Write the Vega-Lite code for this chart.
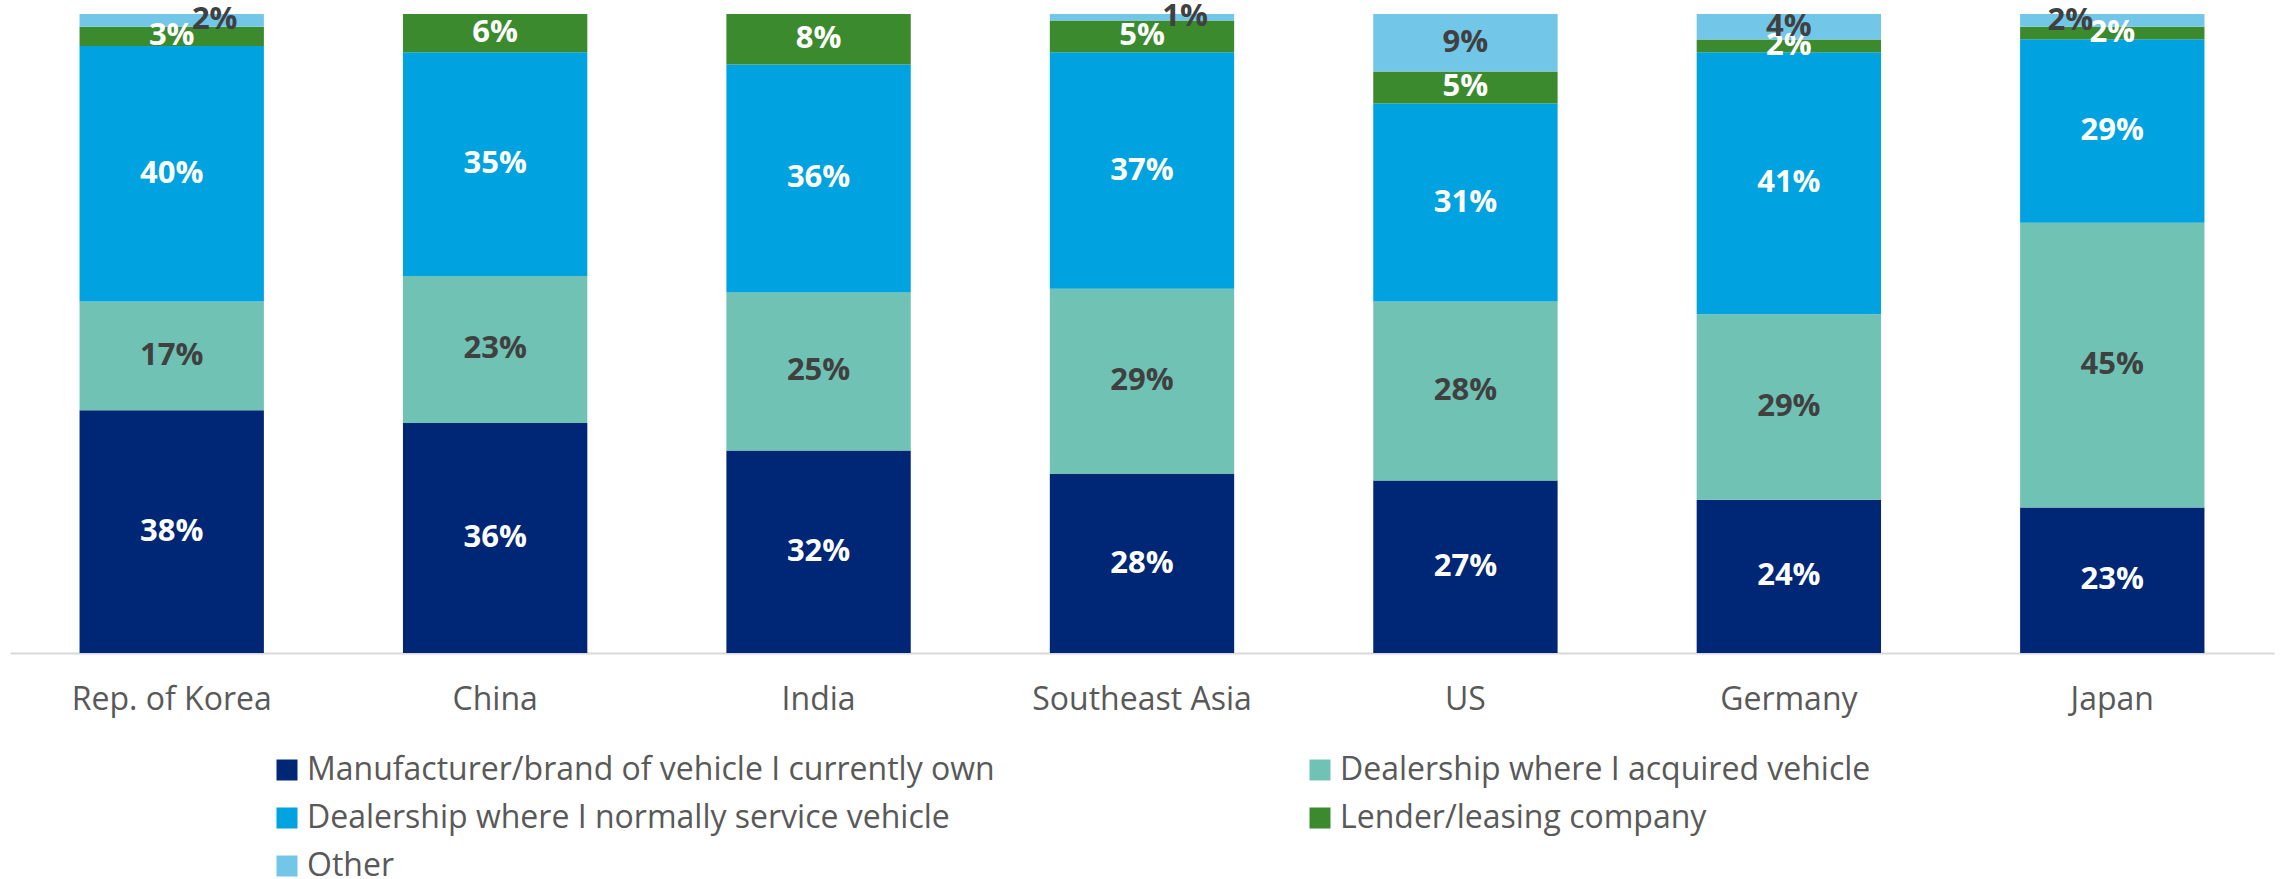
{
  "$schema": "https://vega.github.io/schema/vega-lite/v6.json",
  "width": 2264,
  "height": 639,
  "autosize": {"type": "none"},
  "padding": {"left": 10, "top": 14, "right": 6, "bottom": 226},
  "background": "white",
  "config": {"view": {"stroke": null}, "font": "Open Sans"},
  "data": {"values": [
    {"c": "Rep. of Korea", "s": "Manufacturer/brand of vehicle I currently own", "k": 1, "v": 0.38},
    {"c": "Rep. of Korea", "s": "Dealership where I acquired vehicle", "k": 2, "v": 0.17},
    {"c": "Rep. of Korea", "s": "Dealership where I normally service vehicle", "k": 3, "v": 0.40},
    {"c": "Rep. of Korea", "s": "Lender/leasing company", "k": 4, "v": 0.03},
    {"c": "Rep. of Korea", "s": "Other", "k": 5, "v": 0.02},
    {"c": "China", "s": "Manufacturer/brand of vehicle I currently own", "k": 1, "v": 0.36},
    {"c": "China", "s": "Dealership where I acquired vehicle", "k": 2, "v": 0.23},
    {"c": "China", "s": "Dealership where I normally service vehicle", "k": 3, "v": 0.35},
    {"c": "China", "s": "Lender/leasing company", "k": 4, "v": 0.06},
    {"c": "India", "s": "Manufacturer/brand of vehicle I currently own", "k": 1, "v": 0.32},
    {"c": "India", "s": "Dealership where I acquired vehicle", "k": 2, "v": 0.25},
    {"c": "India", "s": "Dealership where I normally service vehicle", "k": 3, "v": 0.36},
    {"c": "India", "s": "Lender/leasing company", "k": 4, "v": 0.08},
    {"c": "Southeast Asia", "s": "Manufacturer/brand of vehicle I currently own", "k": 1, "v": 0.28},
    {"c": "Southeast Asia", "s": "Dealership where I acquired vehicle", "k": 2, "v": 0.29},
    {"c": "Southeast Asia", "s": "Dealership where I normally service vehicle", "k": 3, "v": 0.37},
    {"c": "Southeast Asia", "s": "Lender/leasing company", "k": 4, "v": 0.05},
    {"c": "Southeast Asia", "s": "Other", "k": 5, "v": 0.01},
    {"c": "US", "s": "Manufacturer/brand of vehicle I currently own", "k": 1, "v": 0.27},
    {"c": "US", "s": "Dealership where I acquired vehicle", "k": 2, "v": 0.28},
    {"c": "US", "s": "Dealership where I normally service vehicle", "k": 3, "v": 0.31},
    {"c": "US", "s": "Lender/leasing company", "k": 4, "v": 0.05},
    {"c": "US", "s": "Other", "k": 5, "v": 0.09},
    {"c": "Germany", "s": "Manufacturer/brand of vehicle I currently own", "k": 1, "v": 0.24},
    {"c": "Germany", "s": "Dealership where I acquired vehicle", "k": 2, "v": 0.29},
    {"c": "Germany", "s": "Dealership where I normally service vehicle", "k": 3, "v": 0.41},
    {"c": "Germany", "s": "Lender/leasing company", "k": 4, "v": 0.02},
    {"c": "Germany", "s": "Other", "k": 5, "v": 0.04},
    {"c": "Japan", "s": "Manufacturer/brand of vehicle I currently own", "k": 1, "v": 0.23},
    {"c": "Japan", "s": "Dealership where I acquired vehicle", "k": 2, "v": 0.45},
    {"c": "Japan", "s": "Dealership where I normally service vehicle", "k": 3, "v": 0.29},
    {"c": "Japan", "s": "Lender/leasing company", "k": 4, "v": 0.02},
    {"c": "Japan", "s": "Other", "k": 5, "v": 0.02}
  ]},
  "transform": [
    {"stack": "v", "groupby": ["c"], "sort": [{"field": "k", "order": "ascending"}], "offset": "normalize", "as": ["y0", "y1"]},
    {"calculate": "(datum.y0 + datum.y1) / 2", "as": "mid"}
  ],
  "encoding": {
    "x": {
      "field": "c", "type": "nominal", "sort": null, "title": null,
      "scale": {"paddingInner": 0.43, "paddingOuter": 0.215},
      "axis": {"labelAngle": 0, "ticks": false, "domainColor": "#D9D9D9", "domainWidth": 2, "labelFont": "Open Sans", "labelFontSize": 32, "labelColor": "#595959", "labelPadding": 31, "labelLimit": 500}
    },
    "y": {"field": "mid", "type": "quantitative", "scale": {"domain": [0, 1], "nice": false}, "axis": null},
    "text": {"field": "v", "type": "quantitative", "format": ".0%"}
  },
  "layer": [
    {
      "mark": {"type": "bar"},
      "encoding": {
        "y": {"field": "y0", "type": "quantitative", "scale": {"domain": [0, 1], "nice": false}, "axis": null},
        "y2": {"field": "y1"},
        "text": null,
        "color": {
          "field": "s", "type": "nominal", "title": null,
          "scale": {
            "domain": ["Manufacturer/brand of vehicle I currently own", "Dealership where I acquired vehicle", "Dealership where I normally service vehicle", "Lender/leasing company", "Other"],
            "range": ["#002776", "#6FC2B4", "#00A3E0", "#3C8A2E", "#72C6E7"]
          },
          "legend": {
            "orient": "none", "legendX": 261, "legendY": 740, "direction": "horizontal", "columns": 2,
            "columnPadding": 309, "rowPadding": 16,
            "symbolType": "square", "symbolSize": 441, "symbolStrokeWidth": 0, "symbolOffset": 0,
            "labelFont": "Open Sans", "labelFontSize": 32, "labelColor": "#595959", "labelOffset": 4, "labelLimit": 1000
          }
        }
      }
    },
    {
      "transform": [{"filter": "!(datum.s === 'Other' && (datum.c === 'Rep. of Korea' || datum.c === 'Southeast Asia' || datum.c === 'Japan'))"}],
      "mark": {"type": "text", "font": "Open Sans", "fontWeight": "bold", "fontSize": 31, "baseline": "middle", "align": "center"},
      "encoding": {
        "color": {
          "condition": {"test": "datum.s === 'Dealership where I acquired vehicle' || datum.s === 'Other'", "value": "#404040"},
          "value": "#FFFFFF"
        }
      }
    },
    {
      "transform": [{"filter": "datum.s === 'Other' && (datum.c === 'Rep. of Korea' || datum.c === 'Southeast Asia')"}],
      "mark": {"type": "text", "font": "Open Sans", "fontWeight": "bold", "fontSize": 31, "baseline": "middle", "align": "center", "dx": 43, "dy": 0, "color": "#404040"}
    },
    {
      "transform": [{"filter": "datum.s === 'Other' && datum.c === 'Japan'"}],
      "mark": {"type": "text", "font": "Open Sans", "fontWeight": "bold", "fontSize": 31, "baseline": "middle", "align": "center", "dx": -42, "dy": 1, "color": "#404040"}
    }
  ]
}
